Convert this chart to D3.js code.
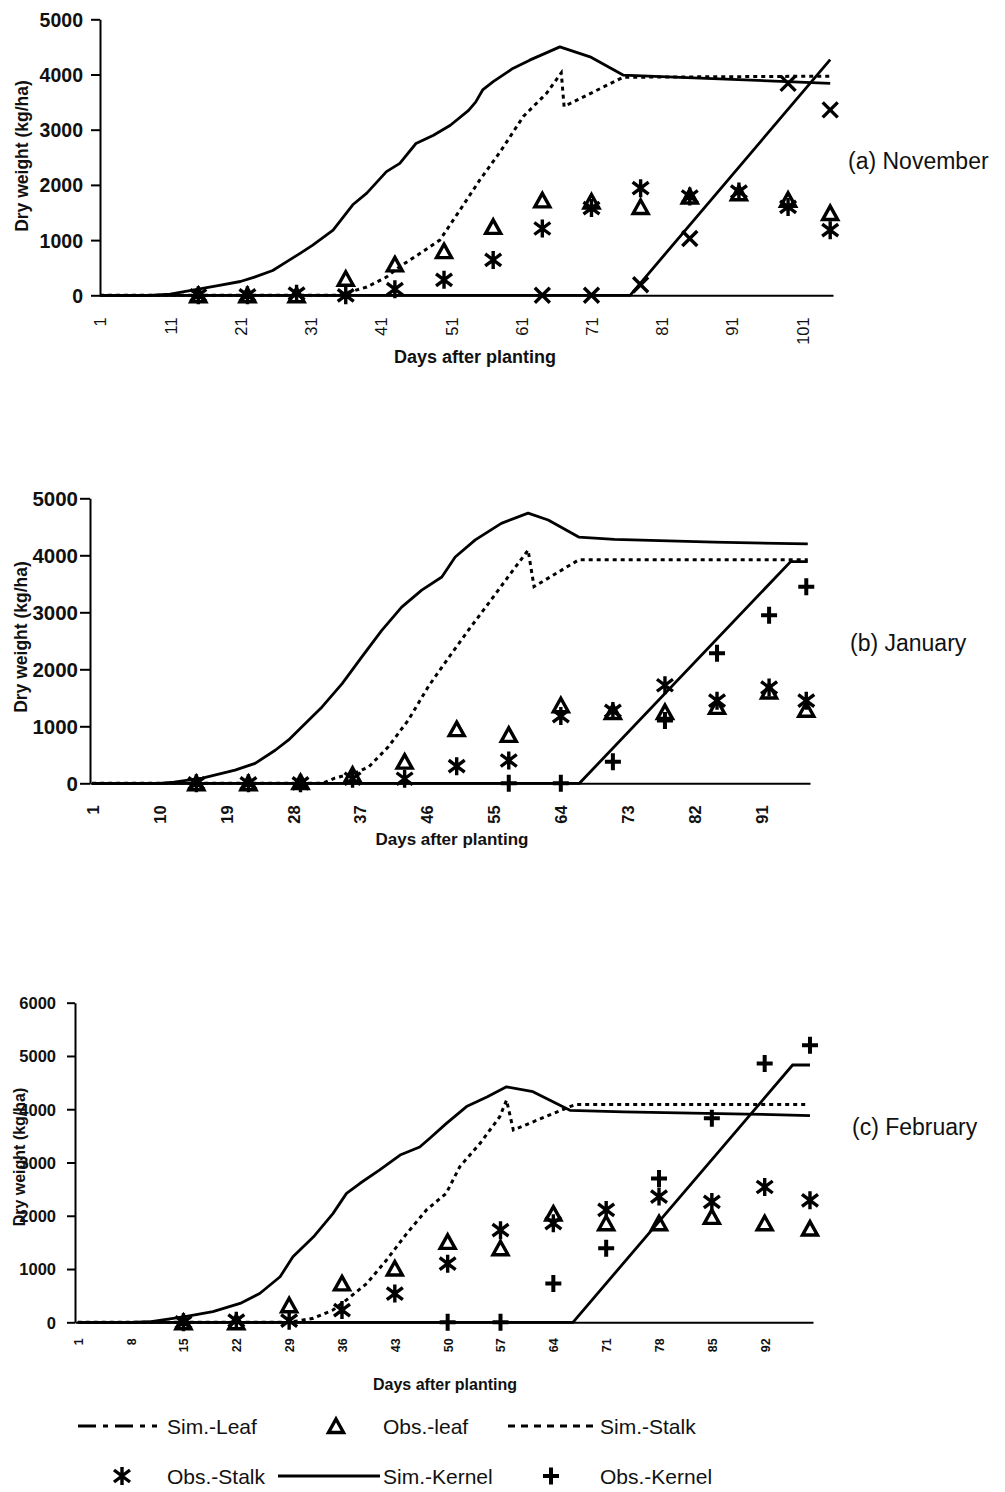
<!DOCTYPE html>
<html>
<head>
<meta charset="utf-8">
<script src="https://cdn.jsdelivr.net/npm/d3@7"></script>
<style>
  body { margin: 0; background: #fff; }
  svg text { font-family: "Liberation Sans", Arial, sans-serif; fill: #111; }
</style>
</head>
<body>
<svg id="chart" width="1005" height="1492"></svg>
<script>
// ---- data (dry weight, kg/ha) ----

// (a) November planting
const novObsDays   = [15, 22, 29, 36, 43, 50, 57, 64, 71, 78, 85, 92, 99, 105];
const novObsLeaf   = [0, 0, 0, 300, 560, 800, 1240, 1720, 1700, 1600, 1790, 1850, 1730, 1490];
const novObsStalk  = [0, 0, 30, 0, 110, 280, 640, 1210, 1580, 1940, 1790, 1880, 1600, 1180];
const novObsKernel = [null, null, null, null, null, null, null, 0, 0, 190, 1030, null, 3840, 3360];
const novSimLeaf = [[1,0],[8,0],[11,20],[15,110],[18,180],[21,250],[23,330],[25.6,450],[27.5,600],
  [29.5,760],[31.3,910],[34.2,1180],[37,1640],[39,1850],[41.8,2240],[43.7,2390],[46,2750],[48.5,2900],
  [50.9,3080],[53.5,3350],[54.5,3500],[55.5,3720],[57,3870],[59.8,4110],[62.2,4260],[66.5,4500],
  [70.8,4320],[75.5,3990],[105,3840]];
const novSimStalk = [[1,0],[35,0],[36,40],[39,150],[41.8,330],[43.7,520],[46.6,760],[49.4,1000],
  [52.3,1550],[55.1,2090],[58,2600],[61.3,3240],[64.6,3660],[66.7,4030],[67.1,3420],[75.5,3950],[105,3970]];
const novSimKernel = [[1,0],[76.5,0],[105,4270]];
const novXTicks = [1, 11, 21, 31, 41, 51, 61, 71, 81, 91, 101];

// (b) January planting
const janObsDays   = [15, 22, 29, 36, 43, 50, 57, 64, 71, 78, 85, 92, 97];
const janObsLeaf   = [0, 0, 20, 150, 380, 950, 850, 1370, 1250, 1250, 1340, 1610, 1290];
const janObsStalk  = [0, 0, 0, 80, 80, 300, 400, 1180, 1270, 1720, 1450, 1680, 1450];
const janObsKernel = [null, null, null, null, null, null, 0, 0, 380, 1100, 2280, 2950, 3450];
const janSimLeaf = [[1,0],[10,0],[12,20],[15.8,90],[20.2,230],[22.9,350],[25.6,580],[27.4,760],
  [29.2,990],[31.9,1340],[34.6,1750],[37.2,2210],[39.9,2680],[42.6,3090],[45.3,3390],[48,3620],
  [49.8,3970],[52.5,4270],[56,4560],[59.6,4740],[62.3,4620],[66.4,4320],[71.2,4280],[84.6,4230],[97.2,4200]];
const janSimStalk = [[1,0],[32,0],[33.6,90],[36.3,180],[38.2,290],[40.8,640],[43.5,1110],[46.2,1700],
  [49,2220],[51.6,2690],[54.3,3160],[56.9,3620],[59.6,4090],[60.4,3450],[66.4,3920],[97.2,3920]];
const janSimKernel = [[1,0],[66.5,0],[94.9,3890],[97.2,3890]];
const janXTicks = [1, 10, 19, 28, 37, 46, 55, 64, 73, 82, 91];

// (c) February planting
const febObsDays   = [15, 22, 29, 36, 43, 50, 57, 64, 71, 78, 85, 92, 98];
const febObsLeaf   = [0, 0, 320, 730, 1010, 1510, 1390, 2040, 1860, 1860, 1980, 1860, 1760];
const febObsStalk  = [0, 30, 30, 230, 540, 1100, 1730, 1860, 2110, 2360, 2260, 2540, 2290];
const febObsKernel = [null, null, null, null, null, 0, 0, 730, 1390, 2700, 3830, 4860, 5200];
const febSimLeaf = [[1,0],[8,0],[10.5,10],[15.2,105],[18.9,200],[22.5,355],[25.1,540],[27.8,855],
  [29.5,1230],[32.2,1600],[34.8,2040],[36.6,2420],[38.4,2610],[41,2860],[43.7,3140],[46.3,3290],
  [47.6,3450],[49.8,3730],[52.5,4050],[55.2,4230],[57.8,4420],[61.3,4330],[66.2,3980],[73.3,3950],
  [89.6,3910],[98,3880]];
const febSimStalk = [[1,0],[29,0],[32.2,75],[34.8,230],[36.6,420],[39.3,730],[41.9,1170],[44.6,1670],
  [47.2,2110],[49.8,2420],[51.6,2920],[54.3,3360],[56.9,3860],[57.8,4170],[58.7,3610],[66.2,4050],
  [67,4090],[97.6,4090]];
const febSimKernel = [[1,0],[66.6,0],[95.7,4830],[98,4830]];
const febXTicks = [1, 8, 15, 22, 29, 36, 43, 50, 57, 64, 71, 78, 85, 92];

const yTicks5 = [0, 1000, 2000, 3000, 4000, 5000];
const yTicks6 = [0, 1000, 2000, 3000, 4000, 5000, 6000];

// ---- layout ----
const panels = [
  { label: "(a) November", obsDays: novObsDays, leaf: novObsLeaf, stalk: novObsStalk, kernel: novObsKernel,
    simLeaf: novSimLeaf, simStalk: novSimStalk, simKernel: novSimKernel, xTicks: novXTicks, yTicks: yTicks5,
    kernelMark: "cross",
    left: 100, right: 833, top: 19.3, bottom: 295.3, dayStart: 1, dayEnd: 105.4, yMax: 5000,
    tickLen: 9, yPad: 8, yFont: 19.5, xFont: 16.5, xWeight: "normal", xLabOff: 22,
    titleX: 22, titleY: 156, titleFont: 17.5, xTitleX: 475, xTitleY: 357, xTitleFont: 18,
    labelX: 848, labelY: 161 },
  { label: "(b) January", obsDays: janObsDays, leaf: janObsLeaf, stalk: janObsStalk, kernel: janObsKernel,
    simLeaf: janSimLeaf, simStalk: janSimStalk, simKernel: janSimKernel, xTicks: janXTicks, yTicks: yTicks5,
    kernelMark: "plus",
    left: 90, right: 810, top: 498.3, bottom: 783.3, dayStart: 0.7, dayEnd: 97.5, yMax: 5000,
    tickLen: 10, yPad: 2, yFont: 20.5, xFont: 16.5, xWeight: "bold", xLabOff: 22,
    titleX: 21, titleY: 637, titleFont: 17.5, xTitleX: 452, xTitleY: 839, xTitleFont: 17,
    labelX: 850, labelY: 643 },
  { label: "(c) February", obsDays: febObsDays, leaf: febObsLeaf, stalk: febObsStalk, kernel: febObsKernel,
    simLeaf: febSimLeaf, simStalk: febSimStalk, simKernel: febSimKernel, xTicks: febXTicks, yTicks: yTicks6,
    kernelMark: "plus",
    left: 75, right: 813, top: 1002.7, bottom: 1322.3, dayStart: 0.63, dayEnd: 98.4, yMax: 6000,
    tickLen: 8, yPad: 11, yFont: 16.5, xFont: 12.5, xWeight: "bold", xLabOff: 16,
    titleX: 19, titleY: 1157, titleFont: 16, xTitleX: 445, xTitleY: 1384, xTitleFont: 16,
    labelX: 852, labelY: 1127 }
];

const marks = {
  tri: "M0,-7L7.5,6.5L-7.5,6.5Z",
  star: "M0,-9V9M-8,-6L8,6M8,-6L-8,6",
  plus: "M-8,0H8M0,-8.5V8.5",
  cross: "M-7.5,-7.5L7.5,7.5M7.5,-7.5L-7.5,7.5"
};

const svg = d3.select("#chart");

function drawMark(g, type, cx, cy) {
  g.append("path")
    .attr("d", marks[type])
    .attr("transform", `translate(${cx},${cy})`)
    .attr("fill", "none")
    .attr("stroke", "#000")
    .attr("stroke-width", type === "plus" ? 4 : 3.4)
    .attr("stroke-linejoin", "miter");
}

function drawPanel(p) {
  const x = d3.scaleLinear().domain([p.dayStart, p.dayEnd]).range([p.left, p.right]);
  const y = d3.scaleLinear().domain([0, p.yMax]).range([p.bottom, p.top]);
  const g = svg.append("g");

  // y axis
  const ya = g.append("g")
    .attr("transform", `translate(${p.left},0)`)
    .call(d3.axisLeft(y).tickValues(p.yTicks).tickSize(p.tickLen).tickSizeOuter(0)
      .tickPadding(p.yPad).tickFormat(d3.format("d")));
  ya.select(".domain").attr("stroke-width", 2);
  ya.selectAll(".tick line").attr("stroke-width", 2);
  ya.selectAll(".tick text")
    .attr("font-size", p.yFont)
    .attr("font-weight", "bold")
    .attr("dy", "0.36em");

  // x axis, labels rotated
  const xa = g.append("g")
    .attr("transform", `translate(0,${p.bottom})`)
    .call(d3.axisBottom(x).tickValues(p.xTicks).tickSize(0).tickSizeOuter(0));
  xa.select(".domain").attr("stroke-width", 2);
  xa.selectAll(".tick text")
    .attr("transform", "rotate(-90)")
    .attr("x", -p.xLabOff)
    .attr("y", 0)
    .attr("dy", "0.36em")
    .attr("text-anchor", "end")
    .attr("font-size", p.xFont)
    .attr("font-weight", p.xWeight);

  // axis titles
  g.append("text")
    .attr("transform", `translate(${p.titleX},${p.titleY}) rotate(-90)`)
    .attr("text-anchor", "middle")
    .attr("dy", "0.36em")
    .attr("font-size", p.titleFont)
    .attr("font-weight", "bold")
    .text("Dry weight (kg/ha)");

  g.append("text")
    .attr("x", p.xTitleX).attr("y", p.xTitleY)
    .attr("text-anchor", "middle")
    .attr("dy", "0.36em")
    .attr("font-size", p.xTitleFont)
    .attr("font-weight", "bold")
    .text("Days after planting");

  g.append("text")
    .attr("x", p.labelX).attr("y", p.labelY)
    .attr("dy", "0.36em")
    .attr("font-size", 23)
    .text(p.label);

  // simulated curves
  const line = d3.line().x(d => x(d[0])).y(d => y(d[1]));
  g.append("path").datum(p.simLeaf).attr("d", line)
    .attr("fill", "none").attr("stroke", "#000").attr("stroke-width", 2.8).attr("stroke-linejoin", "round");
  g.append("path").datum(p.simStalk).attr("d", line)
    .attr("fill", "none").attr("stroke", "#000").attr("stroke-width", 3)
    .attr("stroke-dasharray", "4,4");
  g.append("path").datum(p.simKernel).attr("d", line)
    .attr("fill", "none").attr("stroke", "#000").attr("stroke-width", 2.8);

  // observations
  p.obsDays.forEach((d, i) => {
    if (p.stalk[i] != null) drawMark(g, "star", x(d), y(p.stalk[i]));
    if (p.leaf[i] != null) drawMark(g, "tri", x(d), y(p.leaf[i]));
    if (p.kernel[i] != null) drawMark(g, p.kernelMark, x(d), y(p.kernel[i]));
  });
}

panels.forEach(drawPanel);

// ---- legend ----
const legendItems = [
  { kind: "line", dash: "18,7,5,7", x1: 78, x2: 157, y: 1426, text: "Sim.-Leaf", tx: 167 },
  { kind: "mark", mark: "tri", x: 336, y: 1426, text: "Obs.-leaf", tx: 383 },
  { kind: "line", dash: "7,6", x1: 508, x2: 597, y: 1426, text: "Sim.-Stalk", tx: 600 },
  { kind: "mark", mark: "star", x: 122, y: 1476, text: "Obs.-Stalk", tx: 167 },
  { kind: "line", dash: null, x1: 278, x2: 380, y: 1476, text: "Sim.-Kernel", tx: 383 },
  { kind: "mark", mark: "plus", x: 551, y: 1476, text: "Obs.-Kernel", tx: 600 }
];

const lg = svg.append("g");
legendItems.forEach(it => {
  if (it.kind === "line") {
    lg.append("line")
      .attr("x1", it.x1).attr("x2", it.x2).attr("y1", it.y).attr("y2", it.y)
      .attr("stroke", "#000").attr("stroke-width", 3)
      .attr("stroke-dasharray", it.dash);
  } else {
    drawMark(lg, it.mark, it.x, it.y);
  }
  lg.append("text")
    .attr("x", it.tx).attr("y", it.y)
    .attr("dy", "0.36em")
    .attr("font-size", 21)
    .text(it.text);
});
</script>
</body>
</html>
